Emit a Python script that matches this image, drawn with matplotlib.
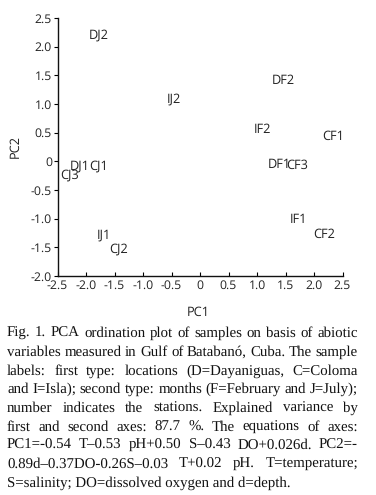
import matplotlib
matplotlib.use("Agg")
import matplotlib.pyplot as plt
from matplotlib.ticker import FixedLocator, FixedFormatter

# Data
labels = ["DJ2", "DF2", "IJ2", "IF2", "CF1", "DJ1", "CJ1", "CJ3", "DF1", "CF3",
          "IF1", "CF2", "IJ1", "CJ2"]
pc1 = [-1.95, 1.26, -0.58, 0.95, 2.14, -2.28, -1.95, -2.46, 1.19, 1.51,
       1.58, 1.98, -1.81, -1.60]
pc2 = [2.20, 1.41, 1.08, 0.56, 0.44, -0.08, -0.08, -0.24, -0.05, -0.08,
       -1.01, -1.27, -1.29, -1.53]
xticks = [-2.5, -2.0, -1.5, -1.0, -0.5, 0, 0.5, 1.0, 1.5, 2.0, 2.5]
xticklabels = ["-2.5", "-2.0", "-1.5", "-1.0", "-0.5", "0", "0.5", "1.0", "1.5", "2.0", "2.5"]
yticks = [-2.0, -1.5, -1.0, -0.5, 0, 0.5, 1.0, 1.5, 2.0, 2.5]
yticklabels = ["-2.0", "-1.5", "-1.0", "-0.5", "0", "0.5", "1.0", "1.5", "2.0", "2.5"]

caption_lines = [
    "Fig. 1. PCA ordination plot of samples on basis of abiotic",
    "variables measured in Gulf of Batabanó, Cuba. The sample",
    "labels: first type: locations (D=Dayaniguas, C=Coloma",
    "and I=Isla); second type: months (F=February and J=July);",
    "number indicates the stations. Explained variance by",
    "first and second axes: 87.7 %. The equations of axes:",
    "PC1=-0.54 T–0.53 pH+0.50 S–0.43 DO+0.026d. PC2=-",
    "0.89d–0.37DO-0.26S–0.03 T+0.02 pH. T=temperature;",
    "S=salinity; DO=dissolved oxygen and d=depth.",
]

plt.rcParams["text.hinting"] = "no_hinting"

W, H = 376, 495
fig = plt.figure(figsize=(W / 100, H / 100), dpi=100)
fig.patch.set_facecolor("white")
sans = ["Open Sans", "DejaVu Sans"]
serif = ["Liberation Serif", "DejaVu Serif"]
tc = "#222222"

ax = fig.add_axes([57.5 / W, 1 - 276 / H, 285 / W, 258 / H])
ax.set_xlim(-2.5, 2.5)
ax.set_ylim(-2.0, 2.5)
for s in ["top", "right"]:
    ax.spines[s].set_visible(False)
for s in ["left", "bottom"]:
    ax.spines[s].set_linewidth(1.0)
    ax.spines[s].set_color("#111111")
ax.xaxis.set_major_locator(FixedLocator(xticks))
ax.xaxis.set_major_formatter(FixedFormatter(xticklabels))
ax.yaxis.set_major_locator(FixedLocator(yticks))
ax.yaxis.set_major_formatter(FixedFormatter(yticklabels))
ax.tick_params(axis="x", direction="in", length=3, width=0.8, pad=2.5, labelsize=8.8,
               labelcolor=tc)
ax.tick_params(axis="y", direction="out", length=3, width=0.8, pad=1.0, labelsize=8.8,
               labelcolor=tc)
for lab in ax.get_xticklabels() + ax.get_yticklabels():
    lab.set_fontfamily(sans)

for lbl, x, y in zip(labels, pc1, pc2):
    ax.text(x, y, lbl, ha="left", va="center", fontsize=9.2, family=sans, color=tc)

fig.text(198 / W, 1 - 312.5 / H, "PC1", ha="center", va="center", fontsize=9.2,
         family=sans, color=tc)
fig.text(15 / W, 1 - 147 / H, "PC2", ha="center", va="center", rotation=90,
         fontsize=9.2, family=sans, color=tc)

# Justified caption
fig.canvas.draw()
renderer = fig.canvas.get_renderer()
left_px, right_px = 7, 358
fs = 10.7
y0, dy = 337, 18.7   # baselines
for i, line in enumerate(caption_lines):
    ypix = y0 + i * dy
    words = line.split(" ")
    if i == len(caption_lines) - 1:
        fig.text(left_px / W, 1 - ypix / H, line, ha="left", va="baseline",
                 fontsize=fs, family=serif, color="#111111")
        continue
    arts = []
    widths = []
    for w in words:
        t = fig.text(0, 1 - ypix / H, w, ha="left", va="baseline", fontsize=fs,
                     family=serif, color="#111111")
        bb = t.get_window_extent(renderer)
        arts.append(t)
        widths.append(bb.width)
    gap = (right_px - left_px - sum(widths)) / max(len(words) - 1, 1)
    x = left_px
    for t, wdt in zip(arts, widths):
        t.set_x(x / W)
        x += wdt + gap

fig.savefig("out.png", dpi=100)
